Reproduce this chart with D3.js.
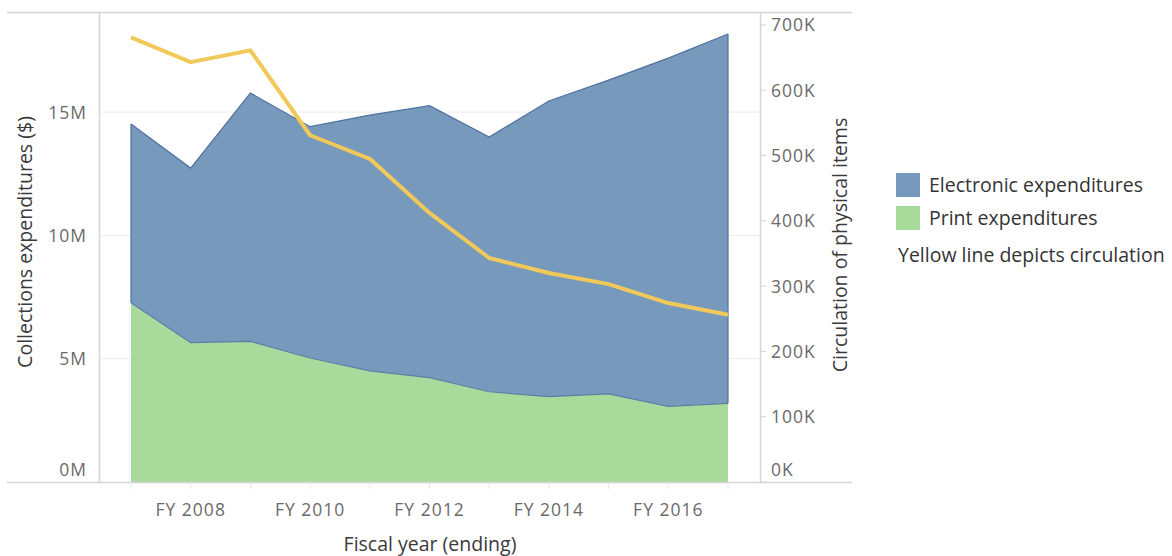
<!DOCTYPE html>
<html>
<head>
<meta charset="utf-8">
<script src="https://cdn.jsdelivr.net/npm/d3@7"></script>
<style>
  body { margin: 0; background: #fff; }
  svg { font-family: "Open Sans", Lato, sans-serif; }
</style>
</head>
<body>
<div></div>
<script>
const years = [2007, 2008, 2009, 2010, 2011, 2012, 2013, 2014, 2015, 2016, 2017];
// print spend ($M) and electronic spend ($M), stacked
const printExp = [7.27, 5.65, 5.70, 5.03, 4.51, 4.23, 3.66, 3.46, 3.57, 3.07, 3.19];
const electronicExp = [7.25, 7.08, 10.07, 9.38, 10.37, 11.03, 10.33, 11.99, 12.73, 14.12, 14.98];
const circulation = [681, 643, 661, 531, 495, 412, 343, 320, 303, 274, 256]; // thousands
const leftTicks = [0, 5, 10, 15];
const rightTicks = [0, 100, 200, 300, 400, 500, 600, 700];
const xLabelYears = [2008, 2010, 2012, 2014, 2016];

const W = 1172, H = 556;
const plot = { left: 99, right: 760, top: 12, bottom: 482 };

const svg = d3.select('div').append('svg')
    .attr('width', W).attr('height', H);

const x = d3.scaleLinear().domain([2007, 2017]).range([131, 728]);
const yL = d3.scaleLinear().domain([0, 19.06]).range([plot.bottom, plot.top]);
const yR = d3.scaleLinear().domain([0, (plot.bottom - plot.top) / 0.653]).range([plot.bottom, plot.top]);

const data = years.map((yr, i) => ({
    yr, print: printExp[i], total: printExp[i] + electronicExp[i], circ: circulation[i]
}));

// gridlines
svg.append('g').selectAll('line')
    .data(leftTicks.filter(d => d > 0))
    .join('line')
    .attr('x1', plot.left).attr('x2', plot.right)
    .attr('y1', d => yL(d)).attr('y2', d => yL(d))
    .attr('stroke', '#ececec').attr('stroke-width', 1);

// areas
const areaTotal = d3.area().x(d => x(d.yr)).y0(d => yL(d.print)).y1(d => yL(d.total));
const areaPrint = d3.area().x(d => x(d.yr)).y0(plot.bottom).y1(d => yL(d.print));

svg.append('path').datum(data).attr('d', areaTotal).attr('fill', '#7799bc');
svg.append('path').datum(data).attr('d', areaPrint).attr('fill', '#a7da9b');

// outlines
svg.append('path').datum(data)
    .attr('d', d3.line().x(d => x(d.yr)).y(d => yL(d.total)))
    .attr('fill', 'none').attr('stroke', '#4f72a0').attr('stroke-width', 1.2);
svg.append('path').datum(data)
    .attr('d', d3.line().x(d => x(d.yr)).y(d => yL(d.print)))
    .attr('fill', 'none').attr('stroke', '#5a7fa8').attr('stroke-width', 1.2);
svg.append('line')
    .attr('x1', x(2007)).attr('x2', x(2007))
    .attr('y1', yL(data[0].print)).attr('y2', yL(data[0].total))
    .attr('stroke', '#4f72a0').attr('stroke-width', 1.2);
svg.append('line')
    .attr('x1', x(2017)).attr('x2', x(2017))
    .attr('y1', yL(data[10].print)).attr('y2', yL(data[10].total))
    .attr('stroke', '#4f72a0').attr('stroke-width', 1.2);

// circulation line
svg.append('path').datum(data)
    .attr('d', d3.line().x(d => x(d.yr)).y(d => yR(d.circ)))
    .attr('fill', 'none').attr('stroke', '#f1c85a').attr('stroke-width', 4)
    .attr('stroke-linejoin', 'round');

// frame lines
svg.append('line').attr('x1', 7).attr('x2', 852).attr('y1', 12.5).attr('y2', 12.5)
    .attr('stroke', '#d4d4d4').attr('stroke-width', 1.5);
svg.append('line').attr('x1', 7).attr('x2', 852).attr('y1', 482.5).attr('y2', 482.5)
    .attr('stroke', '#d4d4d4').attr('stroke-width', 1.5);
svg.append('line').attr('x1', 99.5).attr('x2', 99.5).attr('y1', 12).attr('y2', 482)
    .attr('stroke', '#d4d4d4').attr('stroke-width', 1.5);
svg.append('line').attr('x1', 760.5).attr('x2', 760.5).attr('y1', 12).attr('y2', 482)
    .attr('stroke', '#d4d4d4').attr('stroke-width', 1.5);

// x ticks
svg.append('g').selectAll('line')
    .data(years).join('line')
    .attr('x1', d => x(d)).attr('x2', d => x(d))
    .attr('y1', plot.bottom).attr('y2', plot.bottom + 7)
    .attr('stroke', '#e6e6e6');

svg.append('g').selectAll('text')
    .data(xLabelYears).join('text')
    .attr('x', d => x(d)).attr('y', 516)
    .attr('text-anchor', 'middle')
    .attr('fill', '#6a6a6a').attr('font-size', 17.5).attr('letter-spacing', 1)
    .text(d => 'FY ' + d);

// left axis labels
svg.append('g').selectAll('text')
    .data(leftTicks).join('text')
    .attr('x', 87).attr('y', d => d === 0 ? yL(d) - 6 : yL(d) + 6.5)
    .attr('text-anchor', 'end')
    .attr('fill', '#6a6a6a').attr('font-size', 17.5).attr('letter-spacing', 1)
    .text(d => d + 'M');

// right axis ticks + labels
svg.append('g').selectAll('line')
    .data(rightTicks).join('line')
    .attr('x1', 760).attr('x2', 766)
    .attr('y1', d => yR(d)).attr('y2', d => yR(d))
    .attr('stroke', '#d4d4d4');

svg.append('g').selectAll('text')
    .data(rightTicks).join('text')
    .attr('x', 771).attr('y', d => d === 0 ? yR(d) - 6 : yR(d) + 6.5)
    .attr('fill', '#6a6a6a').attr('font-size', 17.5).attr('letter-spacing', 1)
    .text(d => d + 'K');

// axis titles
svg.append('text')
    .attr('transform', 'translate(32,242) rotate(-90)')
    .attr('text-anchor', 'middle').attr('fill', '#3a3a3a').attr('font-size', 19.5)
    .text('Collections expenditures ($)');
svg.append('text')
    .attr('transform', 'translate(847,245) rotate(-90)')
    .attr('text-anchor', 'middle').attr('fill', '#3a3a3a').attr('font-size', 19.5)
    .text('Circulation of physical items');
svg.append('text')
    .attr('x', 430).attr('y', 551)
    .attr('text-anchor', 'middle').attr('fill', '#3a3a3a').attr('font-size', 19.5)
    .text('Fiscal year (ending)');

// legend
const legendItems = [
    { label: 'Electronic expenditures', color: '#7799bc' },
    { label: 'Print expenditures', color: '#a7da9b' }
];
const lg = svg.append('g').attr('transform', 'translate(896,173)');
lg.selectAll('rect').data(legendItems).join('rect')
    .attr('x', 0).attr('y', (d, i) => i * 33)
    .attr('width', 24).attr('height', 24)
    .attr('fill', d => d.color);
lg.selectAll('text').data(legendItems).join('text')
    .attr('x', 33).attr('y', (d, i) => i * 33 + 19)
    .attr('fill', '#333').attr('font-size', 19.5)
    .text(d => d.label);
svg.append('text')
    .attr('x', 898).attr('y', 262)
    .attr('fill', '#333').attr('font-size', 19.5)
    .text('Yellow line depicts circulation');
</script>
</body>
</html>
